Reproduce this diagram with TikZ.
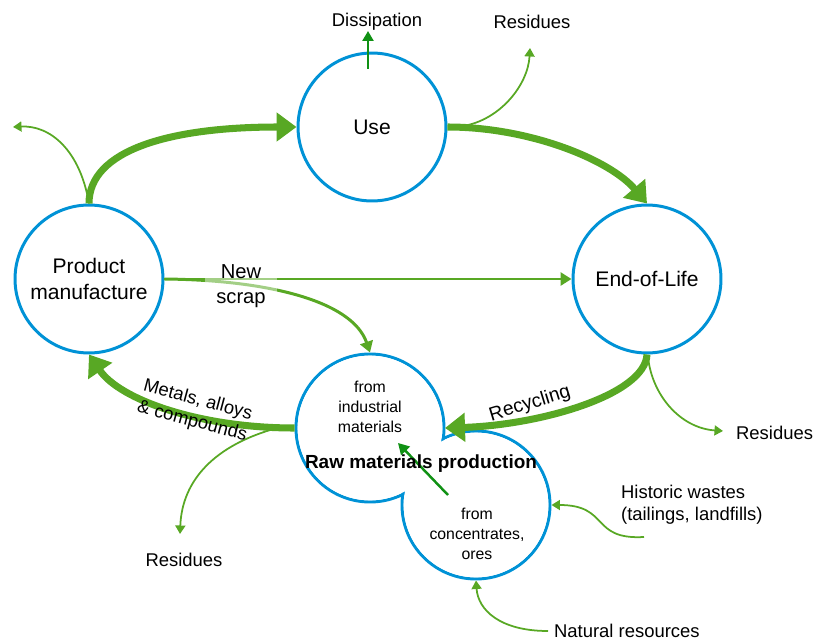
\documentclass[tikz,border=0pt]{standalone}
\usepackage{fontspec}
\setmainfont{Liberation Sans}
\usetikzlibrary{arrows.meta}
\definecolor{ringblue}{RGB}{0,146,214}
\definecolor{flowgreen}{RGB}{88,168,36}
\definecolor{darkflow}{RGB}{16,145,20}
\tikzset{
  stage/.style={circle,draw=ringblue,line width=1.7pt,minimum size=2.96cm,inner sep=0pt,align=center,font=\fontsize{12}{14.5}\selectfont},
  bigflow/.style={draw=flowgreen,line width=4pt,-{Triangle[length=0.4cm,width=0.56cm]}},
  midflow/.style={draw=flowgreen,line width=1.7pt,-{Triangle[length=0.22cm,width=0.26cm]}},
  lossflow/.style={draw=flowgreen,line width=1pt,-{Triangle[length=0.17cm,width=0.2cm]}},
  lbl/.style={font=\fontsize{10.5}{12.5}\selectfont,align=center,inner sep=1pt},
}
\begin{document}
\begin{tikzpicture}[x=0.02cm,y=-0.02cm]
\useasboundingbox (0,0) rectangle (814,642);
% the four stages
\node[stage] (use) at (372,127) {Use};
\node[stage] (pm) at (89,279) {Product\\manufacture};
\node[stage] (eol) at (647,279) {End-of-Life};
% raw materials production: two merged rings
\node[stage] (ind) at (370,428) {};
\node[stage] (conc) at (476,505) {};
\fill[white] (ind.center) circle (72.3);
\fill[white] (conc.center) circle (72.3);
% free ends
\coordinate (usebr) at (463,126);
\coordinate (pmres) at (13,127);
\coordinate (useres) at (530,48);
\coordinate (dstart) at (368,69);
\coordinate (eolbr) at (648,357);
\coordinate (eolres) at (723,431);
\coordinate (notch) at (445,428);
\coordinate (rawbr) at (277,428);
\coordinate (rawres) at (180,534);
\coordinate (histend) at (644,537);
\coordinate (natend) at (548,631);
\coordinate (innera) at (448,495);
\coordinate (innerb) at (398,443);
% main loop
\draw[bigflow] (pm.north) .. controls (89,150) and (170,127) .. (use.west);
\draw[bigflow] (use.east) .. controls (530,127) and (610,160) .. (eol.north);
\draw[bigflow] (eol.south) .. controls (645,395) and (540,425) .. (notch);
\draw[bigflow] (ind.west) .. controls (200,428) and (120,400) .. (pm.south);
\draw[midflow] (pm.east) -- (eol.west);
\draw[midflow] (pm.east) .. controls (265,280) and (352,300) .. (ind.north);
% losses
\draw[lossflow] (pm.north) .. controls (80,150) and (50,125) .. (pmres);
\draw[lossflow] (usebr) .. controls (500,120) and (528,85) .. (useres);
\draw[lossflow] (eolbr) .. controls (652,395) and (680,428) .. (eolres);
\draw[lossflow] (rawbr) .. controls (215,445) and (182,480) .. (rawres);
\draw[lossflow] (histend) .. controls (590,540) and (610,505) .. (conc.east);
\draw[lossflow] (natend) .. controls (500,631) and (478,610) .. (conc.south);
\draw[draw=darkflow,line width=1.4pt,-{Triangle[length=0.2cm,width=0.22cm]}] (dstart) -- (dstart |- 0,31);
\draw[draw=darkflow,line width=1.4pt,-{Triangle[length=0.22cm,width=0.24cm]}] (innera) -- (innerb);
% labels
\node[lbl] (dis) at (377,22) {Dissipation};
\node[lbl] (resuse) at (532,22) {Residues};
\node[lbl,anchor=west] (reseol) at (734,433) {Residues};
\node[lbl] (resraw) at (184,560) {Residues};
\node[lbl,anchor=west,align=left] (hist) at (619,505) {Historic wastes\\(tailings, landfills)};
\node[lbl,anchor=west] (nat) at (552,631) {Natural resources};
\node[font=\fontsize{11.5}{14}\selectfont,align=center,fill=white,fill opacity=0.45,text opacity=1,minimum width=1.46cm,inner sep=2pt] (scrap) at (241,286) {New\\scrap};
\node[lbl,rotate=-15] (metals) at (195,411) {Metals, alloys\\\& compounds};
\node[lbl,rotate=17,font=\fontsize{11}{13}\selectfont] (recyc) at (530,404) {Recycling};
\node[align=center,font=\fontsize{9}{11.5}\selectfont] (indtxt) at (370,407) {from\\industrial\\materials};
\node[align=center,font=\fontsize{9}{11.5}\selectfont] (conctxt) at (477,534) {from\\concentrates,\\ores};
\node[font=\bfseries\fontsize{10.8}{13}\selectfont] (raw) at (421,464) {Raw materials production};
\end{tikzpicture}
\end{document}
